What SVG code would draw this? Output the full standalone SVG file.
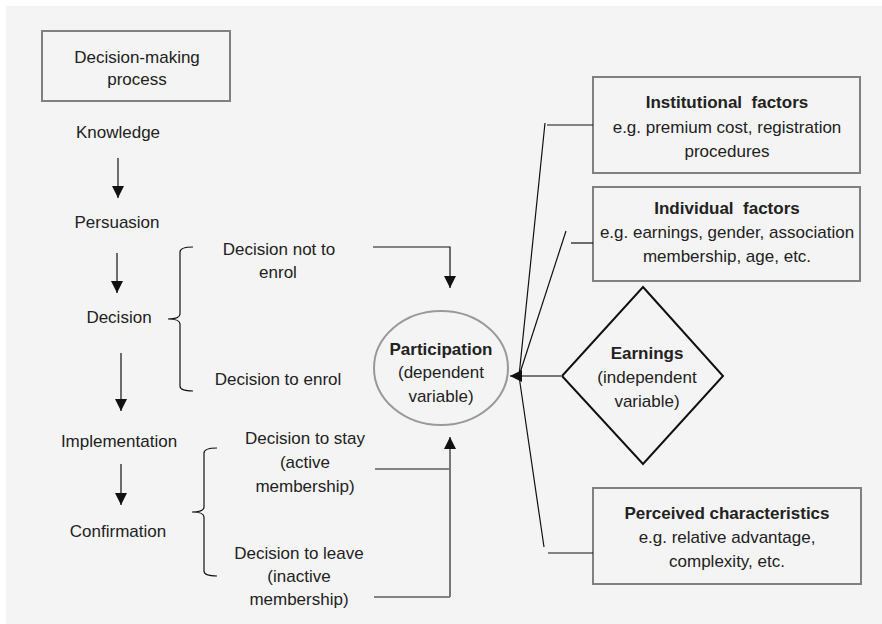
<svg xmlns="http://www.w3.org/2000/svg" width="882" height="624" viewBox="0 0 882 624">
<defs>
<style>
text{font-family:"Liberation Sans",Arial,sans-serif;font-size:17px;fill:#222;text-anchor:middle}
.b{font-weight:bold}
.ln{fill:none;stroke:#111;stroke-width:1.2}
.gl{fill:none;stroke:#777;stroke-width:2}
.box{fill:none;stroke:#808080;stroke-width:2}
</style>
<marker id="ah" markerUnits="userSpaceOnUse" markerWidth="12" markerHeight="14" viewBox="0 0 12 14" refX="12" refY="6" orient="auto">
<path d="M0,0 L12,6 L0,12 Z" fill="#111"/>
</marker>
</defs>
<rect x="0" y="0" width="882" height="624" fill="#ffffff"/>
<rect x="6" y="6" width="876" height="618" fill="#f4f4f4"/>

<g id="process-box">
<rect class="box" x="42" y="31" width="188" height="70"/>
<text x="137" y="63">Decision-making</text>
<text x="137" y="85">process</text>
</g>
<g id="knowledge"><text x="118" y="138">Knowledge</text></g>
<g id="persuasion"><text x="117" y="228">Persuasion</text></g>
<g id="decision"><text x="119" y="323">Decision</text></g>
<g id="implementation"><text x="119" y="447">Implementation</text></g>
<g id="confirmation"><text x="118" y="537">Confirmation</text></g>

<g id="decision-not-enrol"><text x="279" y="255">Decision not to</text><text x="278" y="278">enrol</text></g>
<g id="decision-enrol"><text x="278" y="385">Decision to enrol</text></g>
<g id="decision-stay"><text x="305" y="444">Decision to stay</text><text x="305" y="468">(active</text><text x="305" y="492">membership)</text></g>
<g id="decision-leave"><text x="299" y="559">Decision to leave</text><text x="299" y="582">(inactive</text><text x="299" y="605">membership)</text></g>

<g id="participation">
<ellipse cx="441" cy="368" rx="67" ry="57" fill="none" stroke="#999" stroke-width="2"/>
<text class="b" x="441" y="355">Participation</text>
<text x="441" y="378">(dependent</text>
<text x="441" y="402">variable)</text>
</g>

<g id="earnings">
<path d="M643,287 L723,376 L643,464 L562,376 Z" fill="none" stroke="#111" stroke-width="2"/>
<text class="b" x="647" y="359">Earnings</text>
<text x="647" y="383">(independent</text>
<text x="647" y="407">variable)</text>
</g>

<g id="institutional">
<rect class="box" x="593" y="77" width="267" height="96"/>
<text class="b" x="727" y="108" xml:space="preserve">Institutional  factors</text>
<text x="727" y="133">e.g. premium cost, registration</text>
<text x="727" y="157">procedures</text>
</g>
<g id="individual">
<rect class="box" x="593" y="187" width="267" height="94"/>
<text class="b" x="727" y="214" xml:space="preserve">Individual  factors</text>
<text x="727" y="238">e.g. earnings, gender, association</text>
<text x="727" y="262">membership, age, etc.</text>
</g>
<g id="perceived">
<rect class="box" x="593" y="488" width="268" height="96"/>
<text class="b" x="727" y="519">Perceived characteristics</text>
<text x="727" y="543">e.g. relative advantage,</text>
<text x="727" y="567">complexity, etc.</text>
</g>

<g id="connectors">
<line class="ln" x1="118" y1="158" x2="118" y2="198" marker-end="url(#ah)"/>
<line class="ln" x1="117" y1="253" x2="117" y2="293" marker-end="url(#ah)"/>
<line class="ln" x1="121" y1="353" x2="121" y2="411" marker-end="url(#ah)"/>
<line class="ln" x1="121" y1="464" x2="121" y2="505" marker-end="url(#ah)"/>
<path class="ln" d="M193,247 Q180,247 180,252 L180,314 Q180,319 168,319 Q180,319 180,324 L180,386 Q180,391 193,391"/>
<path class="ln" d="M217,448 Q204,448 204,453 L204,507 Q204,512 192,512 Q204,512 204,517 L204,571 Q204,576 217,576"/>
<polyline class="ln" points="373,247 450,247 450,288" marker-end="url(#ah)"/>
<line class="ln" x1="375" y1="469" x2="450" y2="469"/>
<line class="ln" x1="374" y1="597" x2="450" y2="597"/>
<line class="gl" x1="450" y1="597" x2="450" y2="437" marker-end="url(#ah)"/>
<line class="gl" x1="562" y1="376" x2="510" y2="376" marker-end="url(#ah)"/>
<line class="ln" x1="519" y1="376" x2="545" y2="123"/>
<line class="ln" x1="547" y1="125" x2="593" y2="125"/>
<line class="ln" x1="519" y1="376" x2="566" y2="231"/>
<line class="ln" x1="571" y1="243" x2="593" y2="243"/>
<line class="ln" x1="519" y1="376" x2="544" y2="547"/>
<line class="ln" x1="548" y1="553" x2="593" y2="553"/>
</g>
</svg>
